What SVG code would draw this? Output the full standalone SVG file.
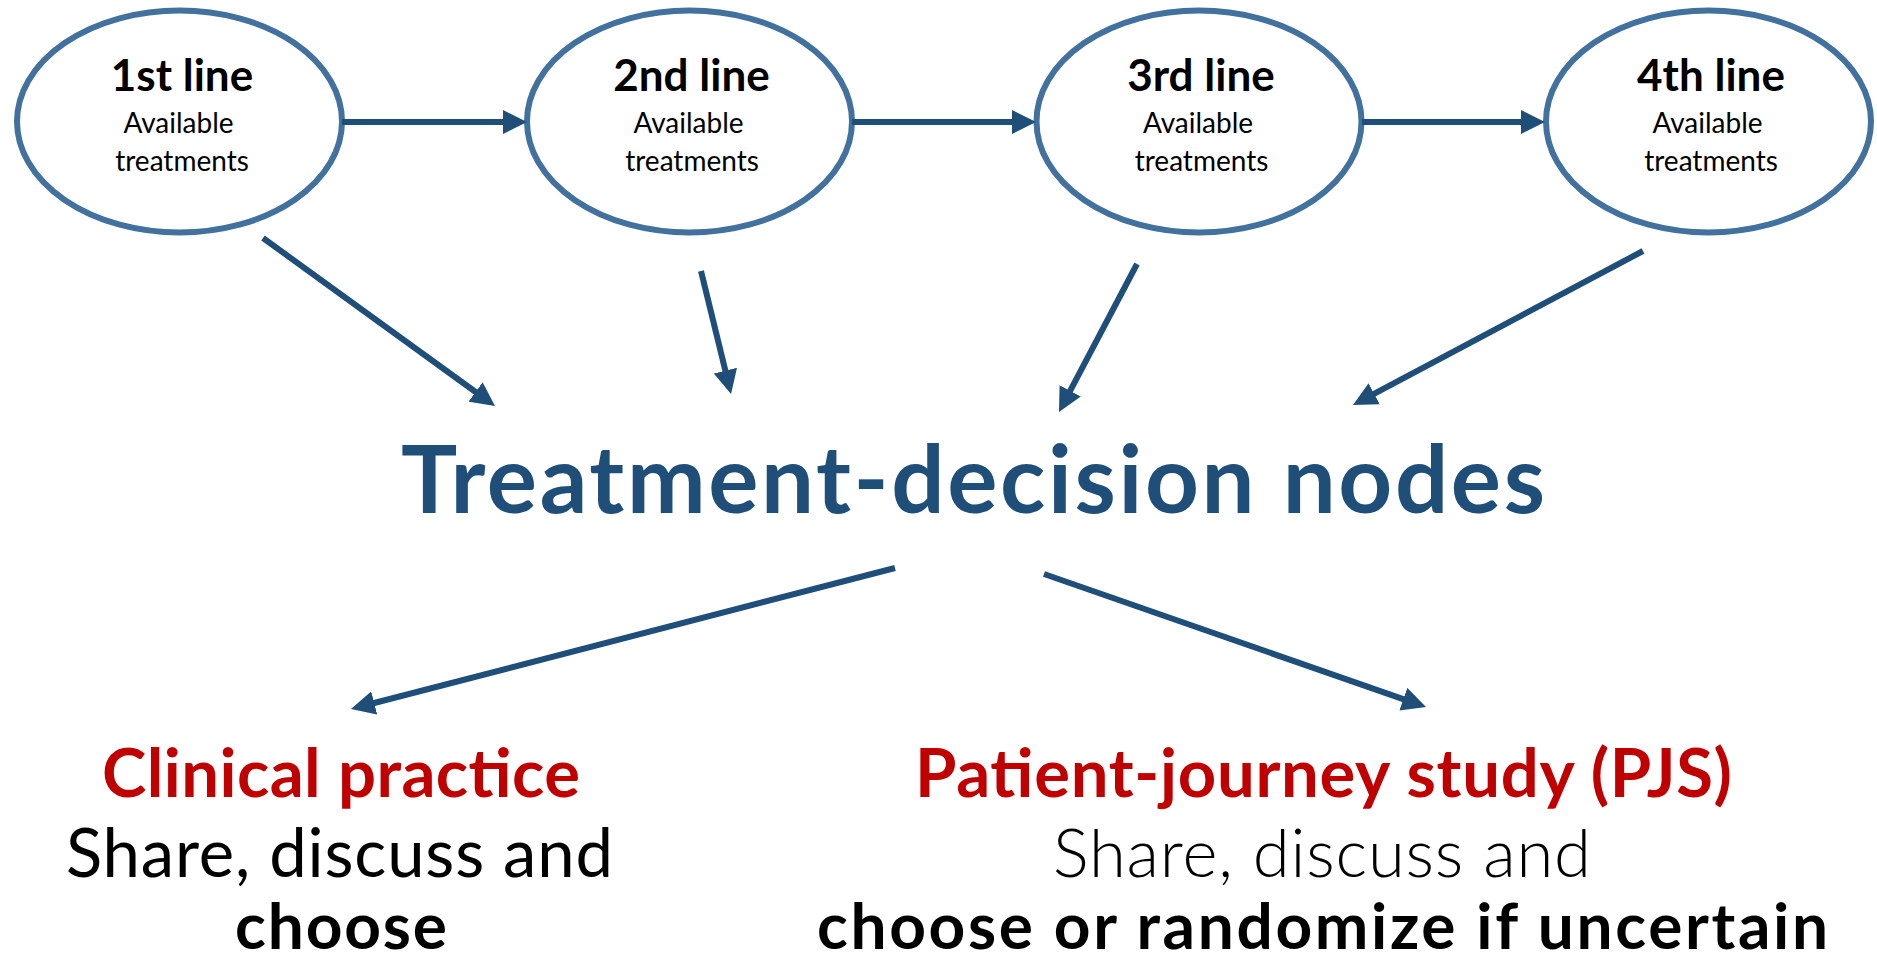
<svg xmlns="http://www.w3.org/2000/svg" width="1877" height="962" viewBox="0 0 1877 962">
<style>
.node ellipse{fill:#fff;stroke:#41719C;stroke-width:6}
.hd{font-family:Lato,"Liberation Sans",sans-serif;font-weight:700;font-size:44px;fill:#000;text-anchor:middle}
.sub{font-family:Lato,"Liberation Sans",sans-serif;font-weight:400;font-size:28px;fill:#000;text-anchor:middle}
.conn line{stroke:#1F4E79;stroke-width:6;marker-end:url(#ah)}
.title{font-family:Lato,"Liberation Sans",sans-serif;font-weight:700;font-size:94px;fill:#1F4E79;text-anchor:middle}
.red{font-family:Lato,"Liberation Sans",sans-serif;font-weight:700;font-size:67px;fill:#C00000;text-anchor:middle}
.reg{font-family:Lato,"Liberation Sans",sans-serif;font-weight:400;font-size:67px;fill:#000;text-anchor:middle}
.lt{font-family:Lato,"Liberation Sans",sans-serif;font-weight:300;font-size:67px;fill:#000;text-anchor:middle}
.bd{font-family:Lato,"Liberation Sans",sans-serif;font-weight:700;font-size:64px;fill:#000;text-anchor:middle}
</style>
<defs>
<marker id="ah" markerUnits="userSpaceOnUse" markerWidth="24" markerHeight="24" viewBox="0 0 24 24" refX="12" refY="12" orient="auto">
<path d="M0,0 L24,12 L0,24 z" fill="#1F4E79"/>
</marker>
</defs>
<rect width="1877" height="962" fill="#fff"/>
<g id="n1" class="node">
<ellipse cx="179.5" cy="121.5" rx="162.5" ry="111"/>
<text class="hd" x="182" y="91">1st line</text>
<text class="sub" x="178.5" y="133">Available</text>
<text class="sub" x="182" y="171">treatments</text>
</g>
<g id="n2" class="node">
<ellipse cx="689.5" cy="121.5" rx="162.5" ry="111"/>
<text class="hd" x="691.5" y="91">2nd line</text>
<text class="sub" x="688.5" y="133">Available</text>
<text class="sub" x="692" y="171">treatments</text>
</g>
<g id="n3" class="node">
<ellipse cx="1199" cy="121.5" rx="162.5" ry="111"/>
<text class="hd" x="1201" y="91">3rd line</text>
<text class="sub" x="1198" y="133">Available</text>
<text class="sub" x="1201.5" y="171">treatments</text>
</g>
<g id="n4" class="node">
<ellipse cx="1708.5" cy="121.5" rx="162.5" ry="111"/>
<text class="hd" x="1711" y="91">4th line</text>
<text class="sub" x="1707.5" y="133">Available</text>
<text class="sub" x="1711" y="171">treatments</text>
</g>
<g id="decision">
<text class="title" x="973" y="513" textLength="1144">Treatment-decision nodes</text>
</g>
<g id="clinical">
<text class="red" x="341" y="797" textLength="478">Clinical practice</text>
<text class="reg" x="339.5" y="877" textLength="547">Share, discuss and</text>
<text class="bd" x="341" y="949" textLength="212">choose</text>
</g>
<g id="pjs">
<text class="red" x="1323.5" y="797" textLength="817">Patient-journey study (PJS)</text>
<text class="lt" x="1322" y="877" textLength="538">Share, discuss and</text>
<text class="bd" x="1322.5" y="949" textLength="1011">choose or randomize if uncertain</text>
</g>
<g id="connectors" class="conn">
<line x1="342" y1="122" x2="515" y2="122"/>
<line x1="852" y1="122" x2="1024" y2="122"/>
<line x1="1362" y1="122" x2="1533" y2="122"/>
<line x1="263" y1="238" x2="485.3" y2="399"/>
<line x1="701" y1="271" x2="728.2" y2="382.3"/>
<line x1="1137" y1="264" x2="1064.6" y2="401.4"/>
<line x1="1643" y1="251" x2="1363.6" y2="399.4"/>
<line x1="895" y1="568" x2="362.6" y2="706"/>
<line x1="1044" y1="574" x2="1414.7" y2="703.1"/>
</g>
</svg>
